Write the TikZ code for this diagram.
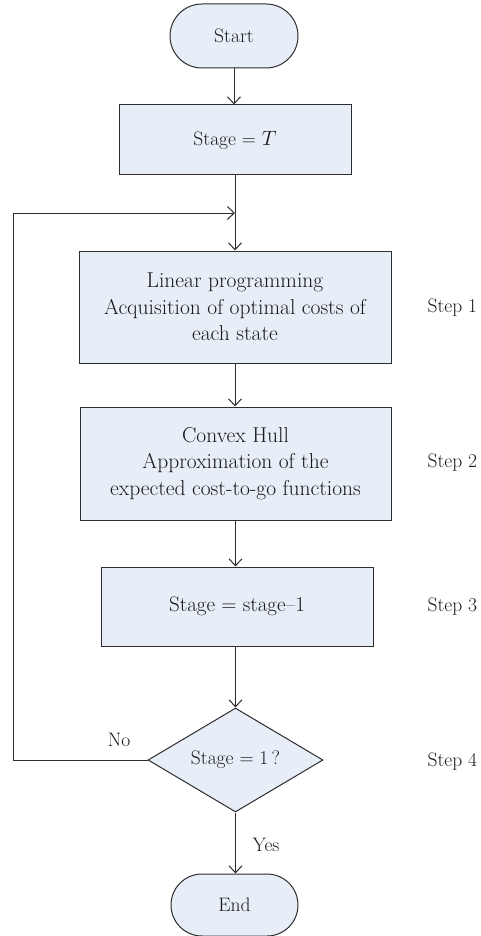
\documentclass[tikz,border=0pt]{standalone}
\usetikzlibrary{shapes.geometric,shapes.misc,arrows.meta}
\definecolor{boxfill}{RGB}{231,238,247}
\definecolor{linec}{RGB}{45,45,45}
\begin{document}
\begin{tikzpicture}[x=1pt,y=-1pt,
  every node/.style={font=\fontsize{19.5}{26.5}\selectfont, text=black!90},
  base/.style={draw=linec, line width=1pt, fill=boxfill, inner sep=0pt, align=center},
  term/.style={base, rounded rectangle, minimum width=128pt, minimum height=64pt},
  procbox/.style={base, rectangle},
  bigtext/.style={font=\fontsize{21.5}{26.7}\selectfont},
  decide/.style={base, diamond, minimum width=175pt, minimum height=104pt, shape aspect=1.68},
  arr/.style={draw=linec, line width=1pt, -{Straight Barb[length=7pt,width=13pt,line width=1pt]}},
  steplab/.style={anchor=west}]
\useasboundingbox (0,0) rectangle (480,936);
\node[term] (start) at (234,36) {Start};
\node[procbox, minimum width=232pt, minimum height=70pt] (stageT) at (235,140) {Stage = $T$};
\node[procbox, bigtext, minimum width=312pt, minimum height=112pt] (lp) at (235,307) {Linear programming\\Acquisition of optimal costs of\\each state};
\node[procbox, bigtext, minimum width=311pt, minimum height=113pt] (ch) at (235.5,463.5) {Convex Hull\\Approximation of the\\expected cost-to-go functions};
\node[procbox, font=\fontsize{21}{26}\selectfont, minimum width=272pt, minimum height=79pt] (dec) at (237,606.5) {Stage = stage\textendash 1};
\node[decide] (dia) at (235.5,760) {Stage = 1\,?};
\node[term, minimum width=127pt, minimum height=62pt] (end) at (234.5,905) {End};

\node[steplab] (s1) at (424,308) {Step 1};
\node[steplab] (s2) at (424,463) {Step 2};
\node[steplab] (s3) at (424,607) {Step 3};
\node[steplab] (s4) at (424,762) {Step 4};
\node (no) at (119,740) {No};
\node (yes) at (266,845) {Yes};

\coordinate (join) at (235,213);
\coordinate (corner) at (13,760);

\draw[arr] (start.south) -- (start.south |- stageT.north);
\draw[arr] (stageT.south) -- (stageT.south |- lp.north);
\draw[arr] (lp.south) -- (lp.south |- ch.north);
\draw[arr] (ch.south) -- (ch.south |- dec.north);
\draw[arr] (dec.south -| dia.north) -- (dia.north);
\draw[arr] (dia.south) -- (dia.south |- end.north);
\draw[arr] (dia.west) -- (corner) |- (join);
\end{tikzpicture}
\end{document}
